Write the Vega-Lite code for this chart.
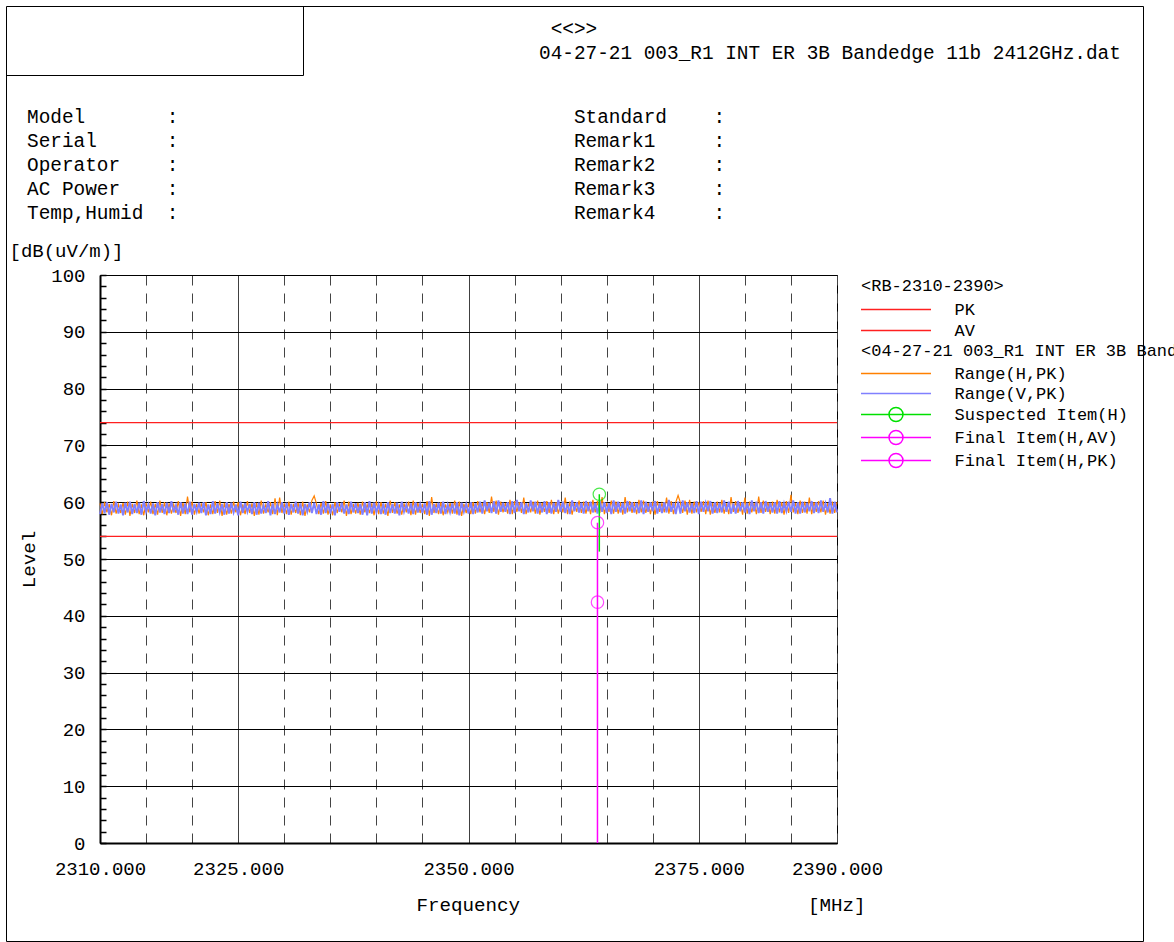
{
"$schema": "https://vega.github.io/schema/vega-lite/v6.json",
"width": 737,
"height": 568,
"autosize": {"type": "none"},
"padding": {"left": 100, "top": 275, "right": 337, "bottom": 99},
"background": "white",
"config": {
  "font": "Liberation Mono",
  "view": {"stroke": "black", "strokeWidth": 1},
  "axis": {"labelFont": "Liberation Mono", "titleFont": "Liberation Mono", "labelColor": "black", "titleColor": "black", "titleFontWeight": "normal", "labelFontSize": 19, "titleFontSize": 19.2},
  "legend": {"labelFont": "Liberation Mono", "titleFont": "Liberation Mono", "labelColor": "black", "titleColor": "black", "titleFontWeight": "normal", "labelFontSize": 17, "titleFontSize": 17}
},
"title": {
  "text": ["\u200b\u00a0\u00a0\u00a0\u00a0\u00a0\u00a0\u00a0\u00a0\u00a0\u00a0\u00a0\u00a0\u00a0\u00a0\u00a0\u00a0\u00a0\u00a0\u00a0\u00a0\u00a0\u00a0\u00a0\u00a0\u00a0\u00a0\u00a0\u00a0\u00a0\u00a0\u00a0\u00a0\u00a0\u00a0\u00a0\u00a0\u00a0\u00a0\u00a0\u00a0\u00a0\u00a0\u00a0\u00a0\u00a0<<>>", "\u200b\u00a0\u00a0\u00a0\u00a0\u00a0\u00a0\u00a0\u00a0\u00a0\u00a0\u00a0\u00a0\u00a0\u00a0\u00a0\u00a0\u00a0\u00a0\u00a0\u00a0\u00a0\u00a0\u00a0\u00a0\u00a0\u00a0\u00a0\u00a0\u00a0\u00a0\u00a0\u00a0\u00a0\u00a0\u00a0\u00a0\u00a0\u00a0\u00a0\u00a0\u00a0\u00a0\u00a0\u00a004-27-21 003_R1 INT ER 3B Bandedge 11b 2412GHz.dat"],
  "subtitle": [
    "Model\u00a0\u00a0\u00a0\u00a0\u00a0\u00a0\u00a0:\u00a0\u00a0\u00a0\u00a0\u00a0\u00a0\u00a0\u00a0\u00a0\u00a0\u00a0\u00a0\u00a0\u00a0\u00a0\u00a0\u00a0\u00a0\u00a0\u00a0\u00a0\u00a0\u00a0\u00a0\u00a0\u00a0\u00a0\u00a0\u00a0\u00a0\u00a0\u00a0\u00a0\u00a0Standard\u00a0\u00a0\u00a0\u00a0:",
    "Serial\u00a0\u00a0\u00a0\u00a0\u00a0\u00a0:\u00a0\u00a0\u00a0\u00a0\u00a0\u00a0\u00a0\u00a0\u00a0\u00a0\u00a0\u00a0\u00a0\u00a0\u00a0\u00a0\u00a0\u00a0\u00a0\u00a0\u00a0\u00a0\u00a0\u00a0\u00a0\u00a0\u00a0\u00a0\u00a0\u00a0\u00a0\u00a0\u00a0\u00a0Remark1\u00a0\u00a0\u00a0\u00a0\u00a0:",
    "Operator\u00a0\u00a0\u00a0\u00a0:\u00a0\u00a0\u00a0\u00a0\u00a0\u00a0\u00a0\u00a0\u00a0\u00a0\u00a0\u00a0\u00a0\u00a0\u00a0\u00a0\u00a0\u00a0\u00a0\u00a0\u00a0\u00a0\u00a0\u00a0\u00a0\u00a0\u00a0\u00a0\u00a0\u00a0\u00a0\u00a0\u00a0\u00a0Remark2\u00a0\u00a0\u00a0\u00a0\u00a0:",
    "AC Power\u00a0\u00a0\u00a0\u00a0:\u00a0\u00a0\u00a0\u00a0\u00a0\u00a0\u00a0\u00a0\u00a0\u00a0\u00a0\u00a0\u00a0\u00a0\u00a0\u00a0\u00a0\u00a0\u00a0\u00a0\u00a0\u00a0\u00a0\u00a0\u00a0\u00a0\u00a0\u00a0\u00a0\u00a0\u00a0\u00a0\u00a0\u00a0Remark3\u00a0\u00a0\u00a0\u00a0\u00a0:",
    "Temp,Humid\u00a0\u00a0:\u00a0\u00a0\u00a0\u00a0\u00a0\u00a0\u00a0\u00a0\u00a0\u00a0\u00a0\u00a0\u00a0\u00a0\u00a0\u00a0\u00a0\u00a0\u00a0\u00a0\u00a0\u00a0\u00a0\u00a0\u00a0\u00a0\u00a0\u00a0\u00a0\u00a0\u00a0\u00a0\u00a0\u00a0Remark4\u00a0\u00a0\u00a0\u00a0\u00a0:"
  ],
  "anchor": "start",
  "frame": "group",
  "align": "left",
  "dx": -73,
  "offset": -217,
  "font": "Liberation Mono",
  "fontSize": 19.4,
  "fontWeight": "normal",
  "color": "black",
  "lineHeight": 24,
  "subtitleFont": "Liberation Mono",
  "subtitleFontSize": 19.4,
  "subtitleColor": "black",
  "subtitleLineHeight": 23.8,
  "subtitlePadding": 45
},
"datasets": {
  "trace": [
{"freq":2310,"H":59.8,"V":57.9},{"freq":2310.25,"H":57.9,"V":59.8},{"freq":2310.5,"H":60.0,"V":58.1},{"freq":2310.75,"H":58.2,"V":60.0},
{"freq":2311,"H":59.7,"V":57.8},{"freq":2311.25,"H":57.7,"V":59.7},{"freq":2311.5,"H":60.2,"V":58.2},{"freq":2311.75,"H":58.0,"V":60.1},
{"freq":2312,"H":59.6,"V":58.0},{"freq":2312.25,"H":58.1,"V":59.6},{"freq":2312.5,"H":59.9,"V":57.7},{"freq":2312.75,"H":57.8,"V":59.9},
{"freq":2313,"H":60.1,"V":58.2},{"freq":2313.25,"H":57.6,"V":60.1},{"freq":2313.5,"H":59.7,"V":57.9},{"freq":2313.75,"H":58.1,"V":59.7},
{"freq":2314,"H":60.3,"V":58.1},{"freq":2314.25,"H":57.9,"V":59.9},{"freq":2314.5,"H":59.6,"V":57.8},{"freq":2314.75,"H":57.7,"V":60.2},
{"freq":2315,"H":59.9,"V":58.3},{"freq":2315.25,"H":58.2,"V":59.6},{"freq":2315.5,"H":60.1,"V":58.0},{"freq":2315.75,"H":57.9,"V":59.8},
{"freq":2316,"H":59.7,"V":57.7},{"freq":2316.25,"H":57.8,"V":60.0},{"freq":2316.5,"H":60.3,"V":58.2},{"freq":2316.75,"H":58.1,"V":59.7},
{"freq":2317,"H":60.0,"V":57.9},{"freq":2317.25,"H":57.7,"V":59.9},{"freq":2317.5,"H":59.8,"V":58.1},{"freq":2317.75,"H":58.0,"V":60.2},
{"freq":2318,"H":59.6,"V":58.2},{"freq":2318.25,"H":58.1,"V":59.5},{"freq":2318.5,"H":60.2,"V":57.8},{"freq":2318.75,"H":57.6,"V":60.0},
{"freq":2319,"H":59.9,"V":58.0},{"freq":2319.25,"H":57.9,"V":59.8},{"freq":2319.5,"H":61.0,"V":57.9},{"freq":2319.75,"H":58.2,"V":60.1},
{"freq":2320,"H":60.1,"V":57.8},{"freq":2320.25,"H":57.8,"V":59.7},{"freq":2320.5,"H":59.7,"V":58.3},{"freq":2320.75,"H":58.0,"V":59.9},
{"freq":2321,"H":59.8,"V":58.1},{"freq":2321.25,"H":58.2,"V":60.0},{"freq":2321.5,"H":60.0,"V":57.7},{"freq":2321.75,"H":57.7,"V":59.6},
{"freq":2322,"H":59.6,"V":57.9},{"freq":2322.25,"H":57.9,"V":60.2},{"freq":2322.5,"H":60.2,"V":58.0},{"freq":2322.75,"H":58.1,"V":59.8},
{"freq":2323,"H":60.3,"V":58.2},{"freq":2323.25,"H":57.6,"V":59.7},{"freq":2323.5,"H":59.9,"V":57.8},{"freq":2323.75,"H":57.8,"V":60.0},
{"freq":2324,"H":59.7,"V":58.0},{"freq":2324.25,"H":58.0,"V":59.9},{"freq":2324.5,"H":60.1,"V":58.2},{"freq":2324.75,"H":58.2,"V":59.6},
{"freq":2325,"H":60.0,"V":57.7},{"freq":2325.25,"H":57.7,"V":60.1},{"freq":2325.5,"H":59.6,"V":58.1},{"freq":2325.75,"H":57.9,"V":59.8},
{"freq":2326,"H":60.2,"V":58.3},{"freq":2326.25,"H":58.1,"V":59.7},{"freq":2326.5,"H":59.8,"V":57.9},{"freq":2326.75,"H":57.6,"V":60.0},
{"freq":2327,"H":59.9,"V":57.8},{"freq":2327.25,"H":57.8,"V":59.9},{"freq":2327.5,"H":60.3,"V":58.0},{"freq":2327.75,"H":58.0,"V":59.5},
{"freq":2328,"H":59.6,"V":58.1},{"freq":2328.25,"H":58.2,"V":60.2},{"freq":2328.5,"H":60.0,"V":57.7},{"freq":2328.75,"H":57.9,"V":59.8},
{"freq":2329,"H":60.7,"V":57.9},{"freq":2329.25,"H":57.7,"V":59.6},{"freq":2329.5,"H":60.8,"V":58.2},{"freq":2329.75,"H":58.1,"V":60.0},
{"freq":2330,"H":59.8,"V":58.0},{"freq":2330.25,"H":57.9,"V":59.9},{"freq":2330.5,"H":60.1,"V":57.8},{"freq":2330.75,"H":57.8,"V":59.7},
{"freq":2331,"H":59.7,"V":58.2},{"freq":2331.25,"H":58.1,"V":60.1},{"freq":2331.5,"H":59.9,"V":58.0},{"freq":2331.75,"H":57.7,"V":59.8},
{"freq":2332,"H":60.1,"V":57.7},{"freq":2332.25,"H":57.6,"V":59.7},{"freq":2332.5,"H":59.6,"V":58.3},{"freq":2332.75,"H":58.2,"V":60.0},
{"freq":2333,"H":60.3,"V":58.1},{"freq":2333.25,"H":61.1,"V":59.9},{"freq":2333.5,"H":59.7,"V":57.9},{"freq":2333.75,"H":57.9,"V":59.6},
{"freq":2334,"H":59.9,"V":57.8},{"freq":2334.25,"H":58.0,"V":60.2},{"freq":2334.5,"H":60.2,"V":58.1},{"freq":2334.75,"H":57.8,"V":59.8},
{"freq":2335,"H":59.6,"V":58.0},{"freq":2335.25,"H":57.7,"V":59.7},{"freq":2335.5,"H":60.0,"V":57.7},{"freq":2335.75,"H":58.1,"V":60.0},
{"freq":2336,"H":59.8,"V":58.3},{"freq":2336.25,"H":58.2,"V":59.9},{"freq":2336.5,"H":60.3,"V":58.0},{"freq":2336.75,"H":57.6,"V":59.6},
{"freq":2337,"H":60.1,"V":57.9},{"freq":2337.25,"H":57.9,"V":60.1},{"freq":2337.5,"H":59.7,"V":58.2},{"freq":2337.75,"H":58.0,"V":59.8},
{"freq":2338,"H":59.9,"V":58.1},{"freq":2338.25,"H":57.8,"V":59.7},{"freq":2338.5,"H":60.1,"V":57.8},{"freq":2338.75,"H":58.2,"V":60.0},
{"freq":2339,"H":59.6,"V":57.7},{"freq":2339.25,"H":58.1,"V":60.2},{"freq":2339.5,"H":59.8,"V":58.0},{"freq":2339.75,"H":57.7,"V":59.9},
{"freq":2340,"H":60.2,"V":58.2},{"freq":2340.25,"H":57.9,"V":59.6},{"freq":2340.5,"H":60.0,"V":57.9},{"freq":2340.75,"H":58.0,"V":59.8},
{"freq":2341,"H":59.7,"V":57.8},{"freq":2341.25,"H":57.6,"V":60.0},{"freq":2341.5,"H":60.3,"V":58.1},{"freq":2341.75,"H":58.1,"V":59.7},
{"freq":2342,"H":60.0,"V":58.0},{"freq":2342.25,"H":58.0,"V":59.9},{"freq":2342.5,"H":59.6,"V":57.7},{"freq":2342.75,"H":57.8,"V":60.1},
{"freq":2343,"H":59.8,"V":58.3},{"freq":2343.25,"H":58.2,"V":59.6},{"freq":2343.5,"H":60.1,"V":58.0},{"freq":2343.75,"H":57.7,"V":59.8},
{"freq":2344,"H":60.3,"V":57.9},{"freq":2344.25,"H":57.8,"V":60.0},{"freq":2344.5,"H":59.9,"V":58.2},{"freq":2344.75,"H":58.1,"V":59.7},
{"freq":2345,"H":59.7,"V":58.1},{"freq":2345.25,"H":57.9,"V":59.8},{"freq":2345.5,"H":60.2,"V":57.8},{"freq":2345.75,"H":57.6,"V":60.2},
{"freq":2346,"H":60.9,"V":57.8},{"freq":2346.25,"H":58.1,"V":59.7},{"freq":2346.5,"H":59.8,"V":58.1},{"freq":2346.75,"H":57.9,"V":59.9},
{"freq":2347,"H":60.0,"V":58.0},{"freq":2347.25,"H":57.7,"V":60.1},{"freq":2347.5,"H":59.6,"V":57.9},{"freq":2347.75,"H":58.2,"V":59.6},
{"freq":2348,"H":59.9,"V":58.2},{"freq":2348.25,"H":58.0,"V":59.8},{"freq":2348.5,"H":60.3,"V":58.0},{"freq":2348.75,"H":57.8,"V":60.0},
{"freq":2349,"H":60.1,"V":57.7},{"freq":2349.25,"H":57.6,"V":59.9},{"freq":2349.5,"H":59.7,"V":58.3},{"freq":2349.75,"H":58.1,"V":59.7},
{"freq":2350,"H":59.8,"V":58.0},{"freq":2350.25,"H":57.9,"V":60.0},{"freq":2350.5,"H":60.0,"V":57.9},{"freq":2350.75,"H":58.0,"V":59.8},
{"freq":2351,"H":60.2,"V":58.2},{"freq":2351.25,"H":58.2,"V":60.1},{"freq":2351.5,"H":59.9,"V":58.0},{"freq":2351.75,"H":57.9,"V":60.3},
{"freq":2352,"H":60.0,"V":58.4},{"freq":2352.25,"H":58.1,"V":59.9},{"freq":2352.5,"H":61.0,"V":58.1},{"freq":2352.75,"H":58.3,"V":60.2},
{"freq":2353,"H":60.3,"V":58.0},{"freq":2353.25,"H":57.8,"V":60.3},{"freq":2353.5,"H":60.1,"V":58.3},{"freq":2353.75,"H":58.2,"V":59.9},
{"freq":2354,"H":59.9,"V":58.3},{"freq":2354.25,"H":58.0,"V":60.0},{"freq":2354.5,"H":60.4,"V":57.9},{"freq":2354.75,"H":57.9,"V":60.2},
{"freq":2355,"H":60.2,"V":58.1},{"freq":2355.25,"H":58.3,"V":60.4},{"freq":2355.5,"H":60.0,"V":58.4},{"freq":2355.75,"H":58.1,"V":60.0},
{"freq":2356,"H":60.8,"V":57.9},{"freq":2356.25,"H":57.9,"V":59.8},{"freq":2356.5,"H":59.8,"V":58.2},{"freq":2356.75,"H":58.2,"V":60.3},
{"freq":2357,"H":60.1,"V":58.4},{"freq":2357.25,"H":58.0,"V":60.1},{"freq":2357.5,"H":60.3,"V":58.0},{"freq":2357.75,"H":57.8,"V":59.9},
{"freq":2358,"H":59.9,"V":58.2},{"freq":2358.25,"H":58.3,"V":60.2},{"freq":2358.5,"H":60.2,"V":57.9},{"freq":2358.75,"H":58.1,"V":60.0},
{"freq":2359,"H":60.4,"V":58.0},{"freq":2359.25,"H":57.9,"V":59.9},{"freq":2359.5,"H":60.0,"V":58.3},{"freq":2359.75,"H":58.0,"V":60.4},
{"freq":2360,"H":59.8,"V":58.3},{"freq":2360.25,"H":58.2,"V":60.1},{"freq":2360.5,"H":60.8,"V":58.1},{"freq":2360.75,"H":57.9,"V":59.8},
{"freq":2361,"H":60.1,"V":57.9},{"freq":2361.25,"H":57.8,"V":60.3},{"freq":2361.5,"H":59.9,"V":58.4},{"freq":2361.75,"H":58.3,"V":60.0},
{"freq":2362,"H":60.3,"V":58.2},{"freq":2362.25,"H":58.1,"V":59.9},{"freq":2362.5,"H":60.1,"V":58.0},{"freq":2362.75,"H":58.0,"V":60.2},
{"freq":2363,"H":60.0,"V":58.4},{"freq":2363.25,"H":57.9,"V":60.1},{"freq":2363.5,"H":60.4,"V":58.2},{"freq":2363.75,"H":58.2,"V":59.9},
{"freq":2364,"H":60.2,"V":58.0},{"freq":2364.25,"H":58.1,"V":60.2},{"freq":2364.5,"H":60.9,"V":58.3},{"freq":2364.75,"H":57.9,"V":60.0},
{"freq":2365,"H":59.9,"V":58.1},{"freq":2365.25,"H":58.3,"V":59.8},{"freq":2365.5,"H":60.3,"V":57.9},{"freq":2365.75,"H":58.0,"V":60.3},
{"freq":2366,"H":60.1,"V":58.3},{"freq":2366.25,"H":58.0,"V":60.1},{"freq":2366.5,"H":60.0,"V":58.2},{"freq":2366.75,"H":57.8,"V":59.9},
{"freq":2367,"H":60.9,"V":58.0},{"freq":2367.25,"H":58.2,"V":60.2},{"freq":2367.5,"H":60.2,"V":58.4},{"freq":2367.75,"H":58.1,"V":60.0},
{"freq":2368,"H":60.0,"V":58.2},{"freq":2368.25,"H":57.9,"V":59.9},{"freq":2368.5,"H":60.4,"V":58.1},{"freq":2368.75,"H":58.2,"V":60.3},
{"freq":2369,"H":60.3,"V":57.9},{"freq":2369.25,"H":58.1,"V":60.1},{"freq":2369.5,"H":59.9,"V":58.3},{"freq":2369.75,"H":57.9,"V":60.0},
{"freq":2370,"H":60.1,"V":58.4},{"freq":2370.25,"H":57.8,"V":60.2},{"freq":2370.5,"H":60.2,"V":58.0},{"freq":2370.75,"H":58.3,"V":59.8},
{"freq":2371,"H":59.8,"V":58.1},{"freq":2371.25,"H":58.2,"V":60.0},{"freq":2371.5,"H":60.8,"V":58.2},{"freq":2371.75,"H":58.0,"V":60.4},
{"freq":2372,"H":60.2,"V":58.3},{"freq":2372.25,"H":57.9,"V":59.9},{"freq":2372.5,"H":60.0,"V":57.9},{"freq":2372.75,"H":61.2,"V":60.1},
{"freq":2373,"H":59.9,"V":58.0},{"freq":2373.25,"H":58.1,"V":60.3},{"freq":2373.5,"H":60.3,"V":58.4},{"freq":2373.75,"H":57.8,"V":60.0},
{"freq":2374,"H":60.4,"V":58.2},{"freq":2374.25,"H":58.0,"V":59.8},{"freq":2374.5,"H":60.1,"V":58.1},{"freq":2374.75,"H":58.2,"V":60.2},
{"freq":2375,"H":60.0,"V":57.9},{"freq":2375.25,"H":58.3,"V":60.1},{"freq":2375.5,"H":60.2,"V":58.3},{"freq":2375.75,"H":57.9,"V":59.9},
{"freq":2376,"H":60.3,"V":58.4},{"freq":2376.25,"H":57.8,"V":60.2},{"freq":2376.5,"H":59.9,"V":58.0},{"freq":2376.75,"H":58.1,"V":60.0},
{"freq":2377,"H":60.1,"V":58.1},{"freq":2377.25,"H":58.2,"V":59.9},{"freq":2377.5,"H":60.4,"V":58.2},{"freq":2377.75,"H":58.0,"V":60.3},
{"freq":2378,"H":59.8,"V":58.3},{"freq":2378.25,"H":57.9,"V":60.1},{"freq":2378.5,"H":60.9,"V":58.0},{"freq":2378.75,"H":58.3,"V":59.8},
{"freq":2379,"H":60.2,"V":58.0},{"freq":2379.25,"H":58.1,"V":60.2},{"freq":2379.5,"H":60.0,"V":58.4},{"freq":2379.75,"H":57.8,"V":60.0},
{"freq":2380,"H":60.8,"V":58.2},{"freq":2380.25,"H":58.0,"V":59.9},{"freq":2380.5,"H":60.1,"V":57.9},{"freq":2380.75,"H":58.2,"V":60.3},
{"freq":2381,"H":59.9,"V":58.4},{"freq":2381.25,"H":57.9,"V":60.1},{"freq":2381.5,"H":61.0,"V":58.1},{"freq":2381.75,"H":58.1,"V":60.0},
{"freq":2382,"H":60.3,"V":58.0},{"freq":2382.25,"H":58.3,"V":60.2},{"freq":2382.5,"H":60.0,"V":58.3},{"freq":2382.75,"H":57.9,"V":59.9},
{"freq":2383,"H":60.1,"V":58.2},{"freq":2383.25,"H":58.0,"V":60.0},{"freq":2383.5,"H":60.4,"V":58.0},{"freq":2383.75,"H":58.2,"V":60.2},
{"freq":2384,"H":60.0,"V":58.1},{"freq":2384.25,"H":57.8,"V":59.8},{"freq":2384.5,"H":60.2,"V":58.4},{"freq":2384.75,"H":58.1,"V":60.1},
{"freq":2385,"H":61.3,"V":58.3},{"freq":2385.25,"H":58.2,"V":60.3},{"freq":2385.5,"H":59.9,"V":58.0},{"freq":2385.75,"H":57.9,"V":60.0},
{"freq":2386,"H":60.3,"V":58.0},{"freq":2386.25,"H":58.1,"V":60.1},{"freq":2386.5,"H":60.1,"V":58.2},{"freq":2386.75,"H":58.0,"V":59.9},
{"freq":2387,"H":60.8,"V":58.4},{"freq":2387.25,"H":57.9,"V":60.2},{"freq":2387.5,"H":60.0,"V":58.1},{"freq":2387.75,"H":58.3,"V":60.0},
{"freq":2388,"H":60.2,"V":58.1},{"freq":2388.25,"H":58.2,"V":60.3},{"freq":2388.5,"H":60.3,"V":58.3},{"freq":2388.75,"H":57.8,"V":59.8},
{"freq":2389,"H":59.9,"V":58.2},{"freq":2389.25,"H":58.0,"V":60.7},{"freq":2389.5,"H":60.1,"V":58.0},{"freq":2389.75,"H":58.1,"V":60.1},
{"freq":2390,"H":60.0,"V":58.2}
  ],
  "items": [
    {"series": "Suspected Item(H)", "freq": 2364.2, "level": 61.4, "base": 51.3},
    {"series": "Final Item(H,AV)", "freq": 2364.0, "level": 42.4, "base": 42.4},
    {"series": "Final Item(H,PK)", "freq": 2364.0, "level": 56.4, "base": 0}
  ],
  "limits": [
    {"limit": "PK", "level": 74, "freq": 2310, "freqEnd": 2390},
    {"limit": "AV", "level": 54, "freq": 2310, "freqEnd": 2390}
  ]
},
"layer": [
  {
    "data": {"name": "trace"},
    "transform": [{"fold": ["H", "V"], "as": ["series", "level"]}],
    "mark": {"type": "line"},
    "encoding": {
      "x": {
        "field": "freq", "type": "quantitative",
        "scale": {"domain": [2310, 2390], "nice": false, "zero": false},
        "axis": {
          "values": [2310, 2315, 2320, 2325, 2330, 2335, 2340, 2345, 2350, 2355, 2360, 2365, 2370, 2375, 2380, 2385, 2390],
          "labelExpr": "indexof([2310, 2325, 2350, 2375, 2390], datum.value) >= 0 ? format(datum.value, '.3f') : ''",
          "labelOverlap": false,
          "labelFlush": false,
          "labelPadding": 16,
          "ticks": false,
          "grid": true,
          "gridWidth": 1,
          "gridColor": {"condition": {"test": "indexof([2325, 2350, 2375], datum.value) >= 0", "value": "black"}, "value": "#444444"},
          "gridDash": {"condition": {"test": "indexof([2325, 2350, 2375], datum.value) >= 0", "value": [1, 0]}, "value": [10, 8]},
          "domainColor": "black",
          "domainWidth": 2,
          "title": "Frequency\u00a0\u00a0\u00a0\u00a0\u00a0\u00a0\u00a0\u00a0\u00a0\u00a0\u00a0\u00a0\u00a0\u00a0\u00a0\u00a0\u00a0\u00a0\u00a0\u00a0\u00a0\u00a0\u00a0\u00a0\u00a0[MHz]",
          "titleAnchor": "start",
          "titleAlign": "left",
          "titleBaseline": "middle",
          "titleX": 316,
          "titleY": 61
        }
      },
      "y": {
        "field": "level", "type": "quantitative",
        "scale": {"domain": [0, 100], "nice": false},
        "axis": {
          "values": [0,2,4,6,8,10,12,14,16,18,20,22,24,26,28,30,32,34,36,38,40,42,44,46,48,50,52,54,56,58,60,62,64,66,68,70,72,74,76,78,80,82,84,86,88,90,92,94,96,98,100],
          "labelExpr": "datum.value % 10 === 0 ? datum.label : ''",
          "labelOverlap": false,
          "labelFlush": false,
          "labelPadding": 21,
          "tickSize": -6,
          "tickColor": "black",
          "tickWidth": 1.5,
          "grid": true,
          "gridColor": "black",
          "gridWidth": 1,
          "gridOpacity": {"condition": {"test": "datum.value % 10 !== 0", "value": 0}, "value": 1},
          "domainColor": "black",
          "domainWidth": 2,
          "title": "Level",
          "titleAngle": -90,
          "titleAlign": "center",
          "titleBaseline": "middle",
          "titleX": -72,
          "titleY": 284
        }
      },
      "strokeWidth": {"condition": {"test": "datum.series === 'V'", "value": 1.9}, "value": 1.2},
      "stroke": {
        "field": "series", "type": "nominal",
        "scale": {"domain": ["H", "V", "Suspected Item(H)", "Final Item(H,AV)", "Final Item(H,PK)"], "range": ["#ff8000", "#8080ff", "#00e000", "#ff00ff", "#ff00ff"]},
        "legend": {
          "orient": "none", "legendX": 761, "legendY": 68, "direction": "vertical", "zindex": 5,
          "title": "<04-27-21 003_R1 INT ER 3B Bandedge 11b 2412GHz.dat>",
          "titleLimit": 2000, "labelLimit": 600, "titlePadding": 5,
          "labelOffset": 50, "symbolOffset": 26.5, "symbolSize": 196, "symbolStrokeWidth": 1.5,
          "rowPadding": 2, "padding": 0,
          "labelExpr": "datum.value === 'H' ? 'Range(H,PK)' : datum.value === 'V' ? 'Range(V,PK)' : datum.label",
          "encode": {"symbols": {"update": {
            "shape": {"signal": "indexof(datum.value, 'Item') >= 0 ? 'M-5,0H5M-1,0A1,1,0,1,1,1,0A1,1,0,1,1,-1,0' : 'M-5,0H5'"},
            "fill": {"value": "transparent"},
            "stroke": {"scale": "stroke", "field": "value"},
            "strokeWidth": {"value": 1.5},
            "opacity": {"value": 1},
            "strokeOpacity": {"value": 1}
          }}}
        }
      }
    }
  },
  {
    "data": {"name": "limits"},
    "mark": {"type": "rule", "strokeWidth": 1.2},
    "encoding": {
      "x": {"field": "freq", "type": "quantitative", "scale": {"domain": [2310, 2390], "nice": false, "zero": false}, "axis": null},
      "x2": {"field": "freqEnd"},
      "y": {
        "field": "level", "type": "quantitative",
        "scale": {"domain": [0, 100], "nice": false},
        "axis": {
          "orient": "left", "labels": false, "ticks": false, "domain": false, "grid": false,
          "title": "[dB(uV/m)]", "titleAngle": 0, "titleAlign": "left", "titleBaseline": "middle",
          "titleX": -91, "titleY": -25, "titleFontSize": 19
        }
      },
      "color": {
        "field": "limit", "type": "nominal",
        "scale": {"domain": ["PK", "AV"], "range": ["#ff2020", "#ff2020"]},
        "legend": {
          "orient": "none", "legendX": 761, "legendY": 3, "direction": "vertical", "zindex": 5,
          "title": "<RB-2310-2390>", "titleLimit": 2000, "titlePadding": 6,
          "symbolType": "M-5,0H5", "symbolSize": 196, "symbolStrokeWidth": 1.5, "symbolOffset": 26.5,
          "labelOffset": 50, "rowPadding": 3, "padding": 0,
          "encode": {"symbols": {"update": {
            "stroke": {"scale": "color", "field": "value"},
            "fill": {"value": "transparent"},
            "strokeWidth": {"value": 1.5},
            "opacity": {"value": 1},
            "strokeOpacity": {"value": 1}
          }}}
        }
      }
    }
  },
  {
    "data": {"name": "items"},
    "mark": {"type": "rule", "strokeWidth": 1.5},
    "encoding": {
      "x": {"field": "freq", "type": "quantitative", "scale": {"domain": [2310, 2390], "nice": false, "zero": false}, "axis": null},
      "y": {"field": "level", "type": "quantitative", "scale": {"domain": [0, 100], "nice": false}, "axis": null},
      "y2": {"field": "base"},
      "stroke": {"field": "series", "type": "nominal"}
    }
  },
  {
    "data": {"name": "items"},
    "mark": {"type": "point", "shape": "circle", "filled": false, "size": 154, "strokeWidth": 1.2},
    "encoding": {
      "x": {"field": "freq", "type": "quantitative", "scale": {"domain": [2310, 2390], "nice": false, "zero": false}, "axis": null},
      "y": {"field": "level", "type": "quantitative", "scale": {"domain": [0, 100], "nice": false}, "axis": null},
      "stroke": {"field": "series", "type": "nominal"}
    }
  },
  {
    "data": {"name": "limits"},
    "mark": {"type": "text", "text": ""},
    "encoding": {
      "x": {"field": "freq", "type": "quantitative", "scale": {"domain": [2310, 2390], "range": [-94, 1043], "nice": false, "zero": false},
            "axis": {"orient": "top", "offset": 269, "labels": false, "ticks": false, "grid": false, "title": null, "domainColor": "black", "domainWidth": 1}},
      "y": {"field": "level", "type": "quantitative", "scale": {"domain": [0, 100], "range": [666, -269], "nice": false, "zero": false},
            "axis": {"orient": "left", "offset": 94, "labels": false, "ticks": false, "grid": false, "title": null, "domainColor": "black", "domainWidth": 1}}
    }
  },
  {
    "data": {"name": "limits"},
    "mark": {"type": "text", "text": ""},
    "encoding": {
      "x": {"field": "freq", "type": "quantitative", "scale": {"domain": [2310, 2390], "range": [-94, 1043], "nice": false, "zero": false},
            "axis": {"orient": "bottom", "offset": 98, "labels": false, "ticks": false, "grid": false, "title": null, "domainColor": "black", "domainWidth": 1}},
      "y": {"field": "level", "type": "quantitative", "scale": {"domain": [0, 100], "range": [666, -269], "nice": false, "zero": false},
            "axis": {"orient": "right", "offset": 306, "labels": false, "ticks": false, "grid": false, "title": null, "domainColor": "black", "domainWidth": 1}}
    }
  },
  {
    "data": {"name": "limits"},
    "mark": {"type": "text", "text": ""},
    "encoding": {
      "x": {"field": "freq", "type": "quantitative", "scale": {"domain": [2310, 2390], "range": [-94, 203], "nice": false, "zero": false},
            "axis": {"orient": "top", "offset": 200, "labels": false, "ticks": false, "grid": false, "title": null, "domainColor": "black", "domainWidth": 1}},
      "y": {"field": "level", "type": "quantitative", "scale": {"domain": [0, 100], "range": [-200, -269], "nice": false, "zero": false},
            "axis": {"orient": "left", "offset": -203, "labels": false, "ticks": false, "grid": false, "title": null, "domainColor": "black", "domainWidth": 1}}
    }
  }
],
"resolve": {"scale": {"x": "independent", "y": "independent"}}
}
